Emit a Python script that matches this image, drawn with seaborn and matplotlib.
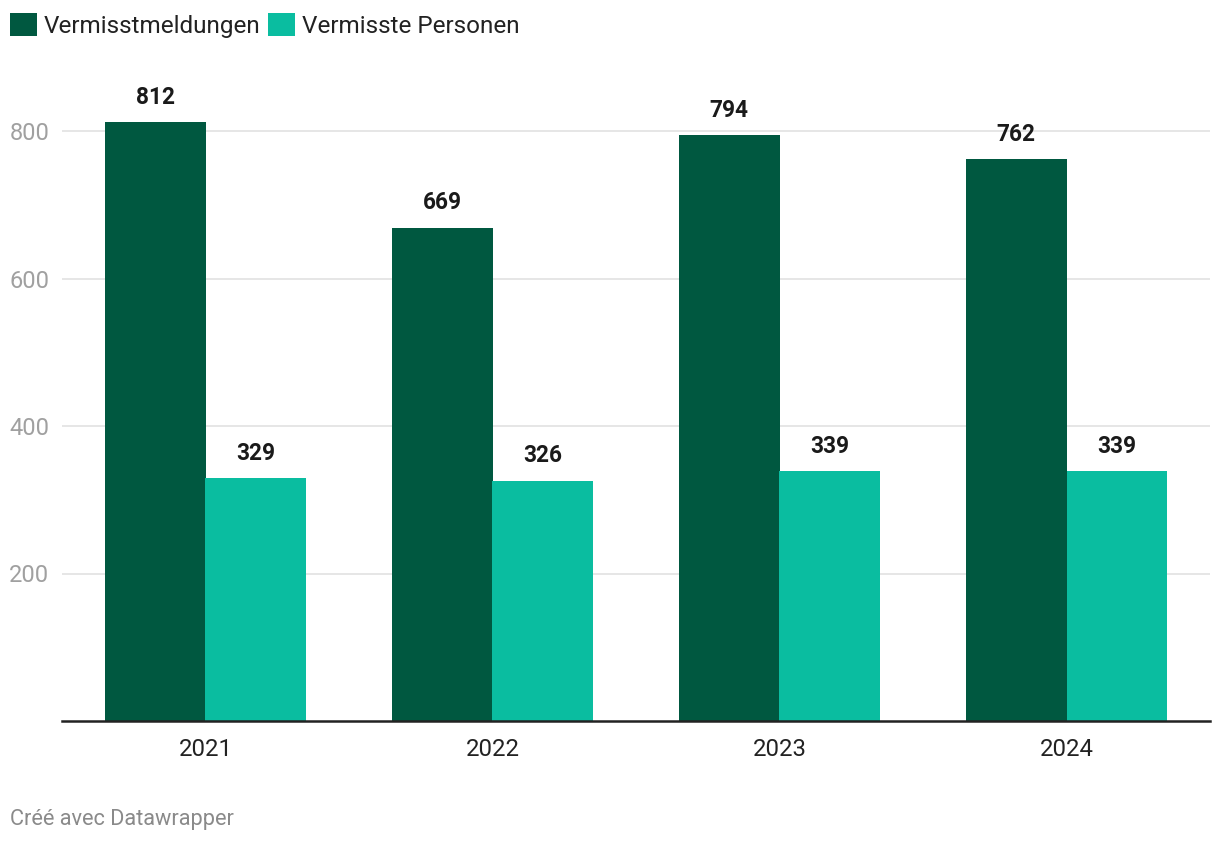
import matplotlib
matplotlib.use("Agg")
import matplotlib.pyplot as plt
import seaborn as sns
import pandas as pd

years = ["2021", "2022", "2023", "2024"]
meldungen = [812, 669, 794, 762]
personen = [329, 326, 339, 339]
series_names = ["Vermisstmeldungen", "Vermisste Personen"]
colors = ["#005840", "#0abda0"]
y_ticks = [200, 400, 600, 800]

df = pd.DataFrame({
    "Jahr": years * 2,
    "Wert": meldungen + personen,
    "Serie": [series_names[0]] * len(years) + [series_names[1]] * len(years),
})

sns.set_theme(style="white")
plt.rcParams["font.family"] = ["Roboto", "DejaVu Sans"]

W, H = 1220, 844
fig = plt.figure(figsize=(W / 100, H / 100), dpi=100)
ax = fig.add_axes([62 / W, (H - 721) / H, (1210 - 62) / W, (721 - 72) / H])

sns.barplot(data=df, x="Jahr", y="Wert", hue="Serie", palette=colors,
            width=0.7, gap=0, saturation=1, ax=ax, legend=True, zorder=3,
            linewidth=0, edgecolor="none")

ax.set_xlim(-0.5, 3.5)
ax.set_ylim(0, 880)
ax.set_yticks(y_ticks)
ax.set_yticklabels([str(v) for v in y_ticks], color="#a0a0a0", fontsize=17)
ax.tick_params(axis="y", length=0, pad=9)
ax.tick_params(axis="x", length=0, pad=12, labelsize=17.2, labelcolor="#222222")
ax.yaxis.grid(True, color="#e2e2e2", linewidth=1.2, zorder=0)
ax.xaxis.grid(False)
for s in ["top", "right", "left"]:
    ax.spines[s].set_visible(False)
ax.spines["bottom"].set_color("#222222")
ax.spines["bottom"].set_linewidth(1.8)
ax.spines["bottom"].set_zorder(4)
ax.set_xlabel("")
ax.set_ylabel("")

for cont in ax.containers:
    ax.bar_label(cont, fmt="%d", padding=9.5, fontsize=16.3, fontweight="bold", color="#1a1a1a")

handles, labels = ax.get_legend_handles_labels()
ax.get_legend().remove()
fig.legend(handles, labels, loc="upper left", bbox_to_anchor=(10 / W, 1 - 13 / H),
           ncol=2, frameon=False, fontsize=17.5, handlelength=1.11, handleheight=1.11,
           handletextpad=0.29, columnspacing=0.3, labelcolor="#222222",
           borderpad=0, borderaxespad=0)

fig.text(10 / W, 1 - 820 / H, "Créé avec Datawrapper", fontsize=15.7, color="#8a8a8a",
         va="center", ha="left")

fig.savefig("out.png", dpi=100, facecolor="white")
